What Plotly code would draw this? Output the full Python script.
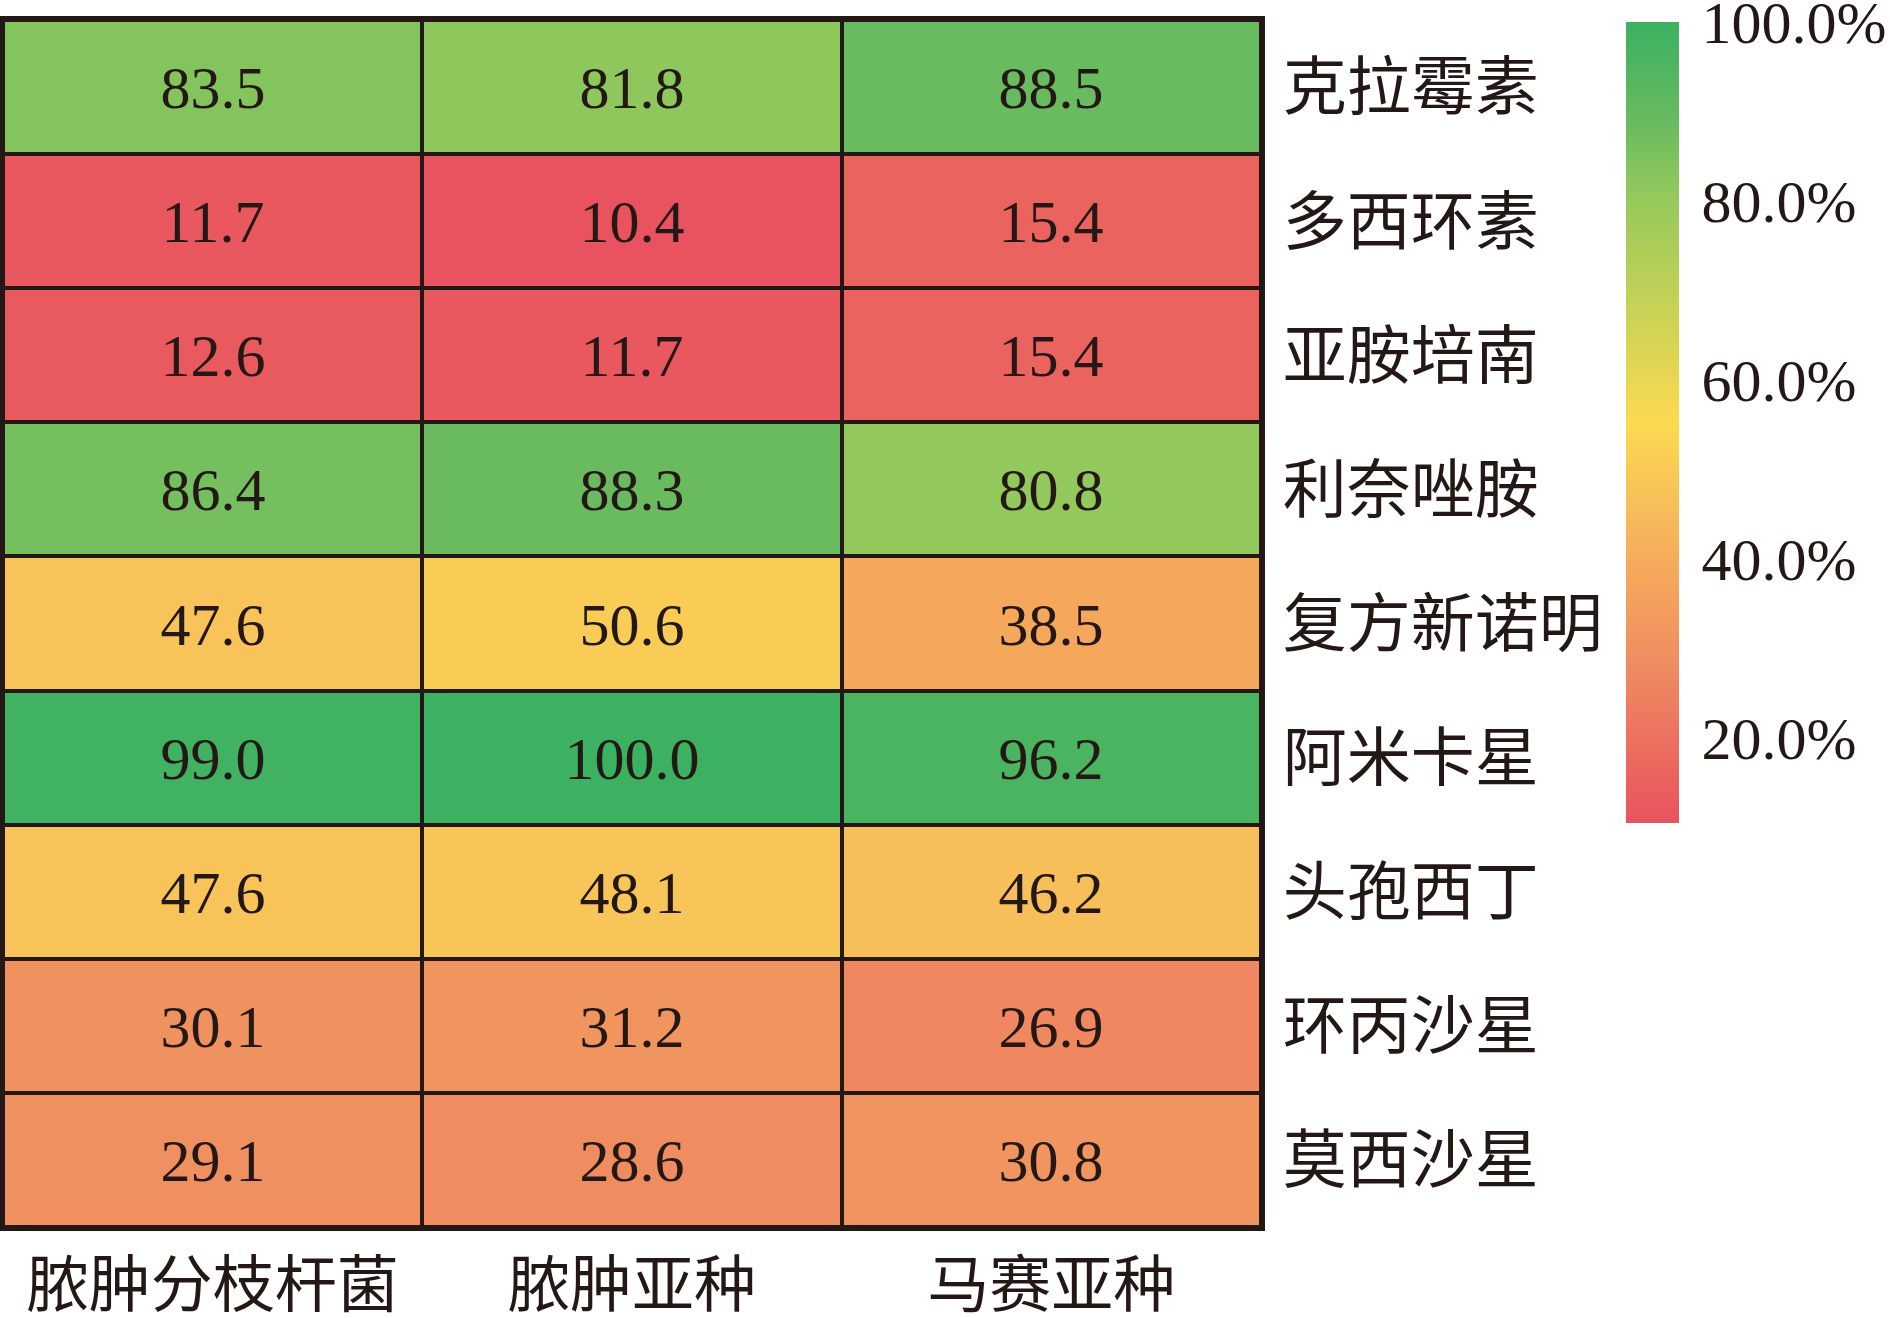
import plotly.graph_objects as go

# strains (columns) and drugs (rows), values in %
strains = ["脓肿分枝杆菌", "脓肿亚种", "马赛亚种"]
drugs = ["克拉霉素", "多西环素", "亚胺培南", "利奈唑胺", "复方新诺明",
         "阿米卡星", "头孢西丁", "环丙沙星", "莫西沙星"]

abscessus_complex = [83.5, 11.7, 12.6, 86.4, 47.6, 99.0, 47.6, 30.1, 29.1]
subsp_abscessus = [81.8, 10.4, 11.7, 88.3, 50.6, 100.0, 48.1, 31.2, 28.6]
subsp_massiliense = [88.5, 15.4, 15.4, 80.8, 38.5, 96.2, 46.2, 26.9, 30.8]

cbar_ticks = [20, 40, 60, 80, 100]
cbar_labels = ["20.0%", "40.0%", "60.0%", "80.0%", "100.0%"]

z = [list(r) for r in zip(abscessus_complex, subsp_abscessus, subsp_massiliense)]
zmin = min(min(r) for r in z)
zmax = max(max(r) for r in z)
# the top tick sits right on the end of the bar, nudge it inside so it is kept
tick_pos = [min(t, zmax - 1e-3) for t in cbar_ticks]

ink = "#231815"
serif = "Liberation Serif, Times New Roman, serif"
cjk = "Noto Sans CJK SC"

# red -> yellow -> green, like a spreadsheet colour scale
scale = [
    [0.0, "#E8535F"],
    [0.22, "#F09260"],
    [0.31, "#F5A75C"],
    [0.40, "#F7BF5A"],
    [0.50, "#FCDA50"],
    [0.786, "#93C95C"],
    [0.87, "#6ABB5F"],
    [1.0, "#3CB161"],
]

fig = go.Figure(
    go.Heatmap(
        z=z,
        x=strains,
        y=drugs,
        zmin=zmin,
        zmax=zmax,
        colorscale=scale,
        xgap=4,
        ygap=4,
        texttemplate="%{z:.1f}",
        textfont=dict(family=serif, size=60, color=ink),
        colorbar=dict(
            x=1.290,
            xanchor="left",
            y=0.998,
            yanchor="top",
            len=801,
            lenmode="pixels",
            thickness=53,
            thicknessmode="pixels",
            xpad=0,
            ypad=0,
            outlinewidth=0,
            tickmode="array",
            tickvals=tick_pos,
            ticktext=cbar_labels,
            ticks="outside",
            ticklen=11,
            tickcolor="rgba(0,0,0,0)",
            ticklabeloverflow="allow",
            tickfont=dict(family=serif, size=60, color=ink),
        ),
    )
)

fig.update_xaxes(
    side="bottom",
    automargin=False,
    showgrid=False,
    showline=True,
    mirror=True,
    linecolor=ink,
    linewidth=4,
    ticks="",
    ticklabelstandoff=2,
    tickfont=dict(family=cjk, size=62, color=ink),
)
fig.update_yaxes(
    side="right",
    automargin=False,
    autorange="reversed",
    showgrid=False,
    showline=True,
    mirror=True,
    linecolor=ink,
    linewidth=4,
    ticks="",
    ticklabelstandoff=5,
    tickfont=dict(family=cjk, size=64, color=ink),
)

fig.update_layout(
    width=1890,
    height=1318,
    margin=dict(l=3, r=629, t=20, b=91, autoexpand=False),
    plot_bgcolor=ink,
    paper_bgcolor="white",
)

# drop the page's default body margin so the figure fills the window exactly
fig.write_html(
    "out.html",
    config={"displayModeBar": False},
    post_script="document.body.style.margin='0';",
)
